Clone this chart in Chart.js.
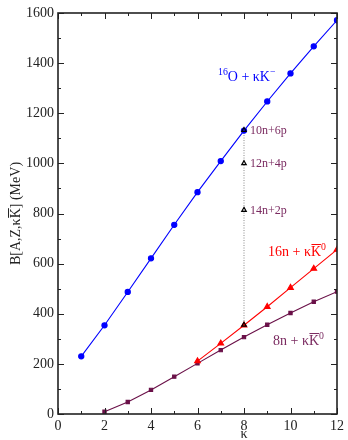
<!DOCTYPE html>
<html>
<head>
<meta charset="utf-8">
<script src="https://cdn.jsdelivr.net/npm/chart.js@4/dist/chart.umd.min.js"></script>
<style>
  html, body { margin:0; padding:0; background:#fff; }
  #wrap { width:348px; height:440px; position:relative; }
</style>
</head>
<body>
<div id="wrap"><canvas id="c"></canvas></div>
<script>
// kappa = numero de antikaons
const kappaO16 = [1,2,3,4,5,6,7,8,9,10,11,12];
const bindO16  = [230,354,487,621,755,885,1009,1131,1247,1359,1467,1571];

const kappaN16 = [6,7,8,9,10,11,12];
const bindN16  = [211,282,354,428,504,580,656];

const kappaN8  = [2,3,4,5,6,7,8,9,10,11,12];
const bindN8   = [9,48,96,149,202,255,307,356,403,448,488];

// configuracoes n/p em kappa = 8
const kappaMix = 8;
const bindMix  = [1133,1000,814,356];
const mixNames = ['10n+6p','12n+4p','14n+2p'];

const xTicks = [0,2,4,6,8,10,12];
const yTicks = [0,200,400,600,800,1000,1200,1400,1600];

const BLUE = '#0000ff', RED = '#ff0000', PLUM = '#6a1048', PLUMTXT = '#7a2a60', INK = '#222';
const SERIF = '"Liberation Serif", "Times New Roman", serif';

const pts = (xs, ys) => xs.map((x,i) => ({ x, y: ys[i] }));

// moldura com ticks para dentro nos quatro lados
const frame = {
  id: 'frame',
  afterDatasetsDraw(chart) {
    const { ctx, chartArea: a, scales: { x, y } } = chart;
    ctx.save();
    ctx.strokeStyle = INK;
    ctx.lineWidth = 1;
    for (let v = 0; v <= 12; v++) {
      const px = Math.round(x.getPixelForValue(v)) + 0.5;
      const len = v % 2 === 0 ? 6 : 3;
      ctx.beginPath();
      ctx.moveTo(px, a.bottom); ctx.lineTo(px, a.bottom - len);
      ctx.moveTo(px, a.top); ctx.lineTo(px, a.top + len);
      ctx.stroke();
    }
    for (let v = 0; v <= 1600; v += 100) {
      const py = Math.round(y.getPixelForValue(v)) + 0.5;
      const len = v % 200 === 0 ? 6 : 3;
      ctx.beginPath();
      ctx.moveTo(a.left, py); ctx.lineTo(a.left + len, py);
      ctx.moveTo(a.right, py); ctx.lineTo(a.right - len, py);
      ctx.stroke();
    }
    ctx.lineWidth = 1.6;
    ctx.strokeRect(a.left, a.top, a.right - a.left, a.bottom - a.top);
    ctx.restore();
  }
};

// texto com sobrescrito e barra opcional sobre o K
function drawLabel(ctx, px, py, parts, size, color) {
  ctx.fillStyle = color; ctx.strokeStyle = color;
  let cx = px;
  parts.forEach(p => {
    const fs = p.sup ? size * 0.7 : size;
    ctx.font = `${fs}px ${SERIF}`;
    const w = ctx.measureText(p.t).width;
    const by = p.sup ? py - size * 0.45 : py;
    ctx.fillText(p.t, cx, by);
    if (p.bar) {
      ctx.lineWidth = 1;
      ctx.beginPath();
      ctx.moveTo(cx + 0.5, py - size * 0.82); ctx.lineTo(cx + w, py - size * 0.82);
      ctx.stroke();
    }
    cx += w;
  });
}

const labels = {
  id: 'labels',
  afterDraw(chart) {
    const { ctx, chartArea: a, scales: { x, y } } = chart;
    ctx.save();
    ctx.textBaseline = 'alphabetic';
    ctx.textAlign = 'left';
    drawLabel(ctx, 218, 81, [{t:'16', sup:true},{t:'O + \u03baK'},{t:'\u2212', sup:true}], 14, BLUE);
    const lx = x.getPixelForValue(kappaMix) + 6;
    mixNames.forEach((n, i) => {
      drawLabel(ctx, lx, y.getPixelForValue(bindMix[i]) + 4, [{t:n}], 12, PLUMTXT);
    });
    drawLabel(ctx, 268, 256, [{t:'16n + \u03ba'},{t:'K', bar:true},{t:'0', sup:true}], 14, RED);
    drawLabel(ctx, 273, 345, [{t:'8n + \u03ba'},{t:'K', bar:true},{t:'0', sup:true}], 14, PLUMTXT);

    // titulos dos eixos
    ctx.fillStyle = INK;
    ctx.font = `14px ${SERIF}`;
    ctx.textAlign = 'center';
    ctx.fillText('\u03ba', x.getPixelForValue(8), 438);
    ctx.save();
    ctx.translate(20, (a.top + a.bottom) / 2);
    ctx.rotate(-Math.PI / 2);
    ctx.textAlign = 'left';
    const full = 'B[A,Z,\u03baK] (MeV)';
    const w = ctx.measureText(full).width;
    drawLabel(ctx, -w / 2, 0, [{t:'B[A,Z,\u03ba'},{t:'K', bar:true},{t:'] (MeV)'}], 14, INK);
    ctx.restore();
    ctx.restore();
  }
};

new Chart(document.getElementById('c'), {
  type: 'scatter',
  data: {
    datasets: [
      { order: 3, data: pts(kappaO16, bindO16), showLine: true, borderColor: BLUE, backgroundColor: BLUE, borderWidth: 1.1, pointStyle: 'circle', pointRadius: 2.6 },
      { order: 2, data: pts(kappaN16, bindN16), showLine: true, borderColor: RED, backgroundColor: RED, borderWidth: 1.1, pointStyle: 'triangle', pointRadius: 3.3 },
      { order: 4, data: pts(kappaN8, bindN8), showLine: true, borderColor: PLUM, backgroundColor: PLUM, borderWidth: 1.1, pointStyle: 'rect', pointRadius: 2.3 },
      { order: 5, data: [{ x: kappaMix, y: bindMix[0] }, { x: kappaMix, y: bindMix[3] }], showLine: true, borderColor: '#8a8a8a', borderWidth: 1, borderDash: [1, 1.5], pointRadius: 0 },
      { order: 0, data: bindMix.map(v => ({ x: kappaMix, y: v })), showLine: false, borderColor: '#000', backgroundColor: 'rgba(255,255,255,0)', borderWidth: 1.2, pointStyle: 'triangle', pointRadius: 2.6 }
    ]
  },
  options: {
    responsive: true, maintainAspectRatio: false, animation: false,
    layout: { padding: { top: 13, right: 8, left: 0, bottom: 0 } },
    plugins: { legend: { display: false }, tooltip: { enabled: false } },
    scales: {
      x: {
        type: 'linear', min: 0, max: 12,
        afterBuildTicks: s => { s.ticks = xTicks.map(v => ({ value: v })); },
        afterFit: s => { s.height = 26; },
        grid: { display: false, drawTicks: false }, border: { display: false },
        ticks: { color: INK, padding: 4, font: { family: SERIF, size: 14 }, callback: v => String(v) }
      },
      y: {
        type: 'linear', min: 0, max: 1600,
        afterBuildTicks: s => { s.ticks = yTicks.map(v => ({ value: v })); },
        afterFit: s => { s.width = 58; },
        grid: { display: false, drawTicks: false }, border: { display: false },
        ticks: { color: INK, padding: 4, font: { family: SERIF, size: 14 }, callback: v => String(v) }
      }
    }
  },
  plugins: [frame, labels]
});
</script>
</body>
</html>
